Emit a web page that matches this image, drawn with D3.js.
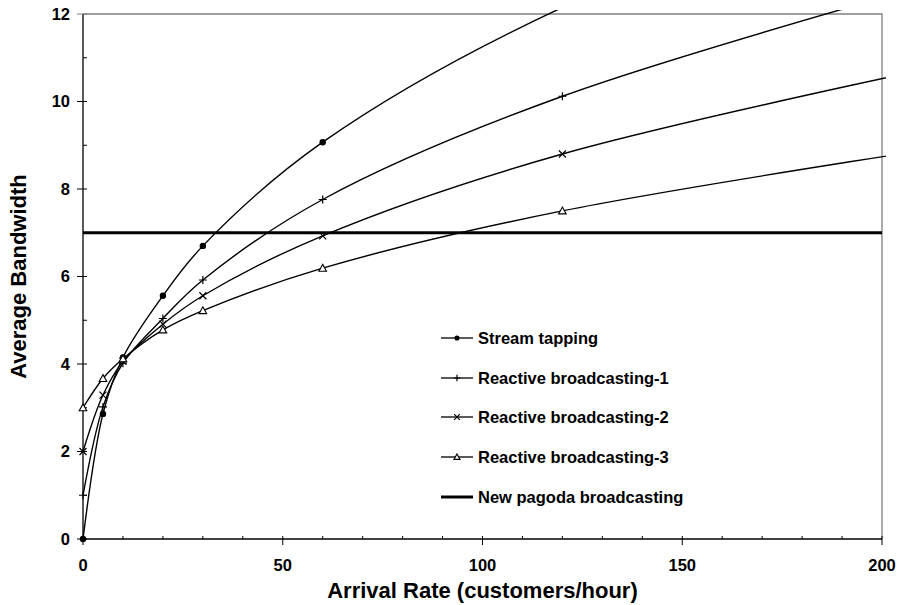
<!DOCTYPE html>
<html><head><meta charset="utf-8">
<script src="https://cdn.jsdelivr.net/npm/d3@7"></script>
<style>
html,body{margin:0;padding:0;background:#fff;}
svg text{font-family:"Liberation Sans",Arial,sans-serif;font-weight:bold;fill:#000;}
</style></head>
<body><svg id="c" width="898" height="605"></svg>
<script>
const arrivalRates = [0, 5, 10, 20, 30, 60, 120, 240];
const streamTapping = [0, 2.86, 4.15, 5.56, 6.70, 9.07, 12.15, 16.3];
const reactive1 = [1, 3.02, 4.02, 5.04, 5.92, 7.76, 10.12, 13.4];
const reactive2 = [2, 3.29, 4.06, 4.91, 5.56, 6.93, 8.80, 11.3];
const reactive3 = [3, 3.67, 4.12, 4.78, 5.22, 6.19, 7.50, 9.3];
const newPagoda = 7;
const seriesNames = ["Stream tapping", "Reactive broadcasting-1", "Reactive broadcasting-2", "Reactive broadcasting-3", "New pagoda broadcasting"];
const xTicks = [0, 50, 100, 150, 200];
const yTicks = [0, 2, 4, 6, 8, 10, 12];
const xLabel = "Arrival Rate (customers/hour)";
const yLabel = "Average Bandwidth";

const svg = d3.select("#c");
const L = 83, R = 882, T = 14, B = 539;
const x = d3.scaleLinear().domain([0, 200]).range([L, R]);
const y = d3.scaleLinear().domain([0, 12]).range([B, T]);

// frame (top & right, grey)
svg.append("path").attr("d", `M${L},${T}H${R}V${B}`).attr("fill", "none").attr("stroke", "#808080").attr("stroke-width", 1.3);

svg.append("defs").append("clipPath").attr("id", "clip").append("rect")
  .attr("x", L - 6).attr("y", T - 4).attr("width", R - L + 10).attr("height", B - T + 10);

const series = [
  {name: seriesNames[0], vals: streamTapping, mark: "circle"},
  {name: seriesNames[1], vals: reactive1, mark: "plus"},
  {name: seriesNames[2], vals: reactive2, mark: "cross"},
  {name: seriesNames[3], vals: reactive3, mark: "tri"}
];

const line = d3.line().x(d => x(d[0])).y(d => y(d[1])).curve(d3.curveCatmullRom.alpha(0.5));
const g = svg.append("g").attr("clip-path", "url(#clip)");
series.forEach(s => {
  const pts = arrivalRates.map((a, i) => [a, s.vals[i]]);
  g.append("path").attr("d", line(pts)).attr("fill", "none").attr("stroke", "#000").attr("stroke-width", 1.4);
});
// New pagoda line
g.append("line").attr("x1", x(0)).attr("x2", x(200)).attr("y1", y(newPagoda)).attr("y2", y(newPagoda))
  .attr("stroke", "#000").attr("stroke-width", 3);

function marker(sel, type, cx, cy, sc) {
  const k = sc || 1;
  if (type === "circle") sel.append("circle").attr("cx", cx).attr("cy", cy).attr("r", 3.2 * k).attr("fill", "#000");
  else if (type === "plus") sel.append("path").attr("d", `M${cx-4*k},${cy}H${cx+4*k}M${cx},${cy-4*k}V${cy+4*k}`).attr("stroke", "#000").attr("stroke-width", 1.2);
  else if (type === "cross") sel.append("path").attr("d", `M${cx-3.5*k},${cy-3.5*k}L${cx+3.5*k},${cy+3.5*k}M${cx-3.5*k},${cy+3.5*k}L${cx+3.5*k},${cy-3.5*k}`).attr("stroke", "#000").attr("stroke-width", 1.2);
  else if (type === "tri") sel.append("path").attr("d", `M${cx},${cy-3.8*k}L${cx+3.8*k},${cy+3*k}L${cx-3.8*k},${cy+3*k}Z`).attr("fill", "#fff").attr("stroke", "#000").attr("stroke-width", 1.1);
}

// axes
const ax = svg.append("g");
ax.append("line").attr("x1", L).attr("x2", L).attr("y1", T).attr("y2", B).attr("stroke", "#000").attr("stroke-width", 1.3);
ax.append("line").attr("x1", L).attr("x2", R).attr("y1", B).attr("y2", B).attr("stroke", "#000").attr("stroke-width", 1.3);
d3.range(0, 13, 1).forEach(v => {
  const major = v % 2 === 0;
  ax.append("line").attr("x1", major ? L - 6 : L).attr("x2", L + 4).attr("y1", y(v)).attr("y2", y(v))
    .attr("stroke", v === 12 ? "#808080" : "#000").attr("stroke-width", 1);
});
d3.range(0, 201, 10).forEach(v => {
  const major = v % 50 === 0;
  ax.append("line").attr("x1", x(v)).attr("x2", x(v)).attr("y1", B - 3).attr("y2", major ? B + 6 : B)
    .attr("stroke", "#000").attr("stroke-width", 1);
});
yTicks.forEach(v => ax.append("text").attr("x", L - 13).attr("y", y(v)).attr("dy", "0.36em")
  .attr("text-anchor", "end").attr("font-size", 16.5).text(v));
xTicks.forEach(v => ax.append("text").attr("x", x(v)).attr("y", 571).attr("text-anchor", "middle")
  .attr("font-size", 16.5).text(v));
svg.append("text").attr("x", (L + R) / 2).attr("y", 598).attr("text-anchor", "middle").attr("font-size", 22).text(xLabel);
svg.append("text").attr("transform", `translate(26,${(T + B) / 2}) rotate(-90)`).attr("text-anchor", "middle").attr("font-size", 22).text(yLabel);

// markers
const mg = svg.append("g");
series.forEach(s => {
  arrivalRates.forEach((a, i) => {
    if (a <= 200 && s.vals[i] <= 12) marker(mg, s.mark, x(a), y(s.vals[i]));
  });
});

// legend
const lg = svg.append("g");
const rows = [338, 378, 417, 457, 497];
seriesNames.forEach((n, i) => {
  const yy = rows[i];
  if (i < 4) {
    lg.append("line").attr("x1", 441).attr("x2", 473).attr("y1", yy).attr("y2", yy).attr("stroke", "#000").attr("stroke-width", 1.3);
    marker(lg, series[i].mark, 457, yy, 0.8);
  } else {
    lg.append("line").attr("x1", 441).attr("x2", 473).attr("y1", yy).attr("y2", yy).attr("stroke", "#000").attr("stroke-width", 3);
  }
  lg.append("text").attr("x", 478).attr("y", yy).attr("dy", "0.36em").attr("font-size", 16.5).text(n);
});
</script></body></html>
